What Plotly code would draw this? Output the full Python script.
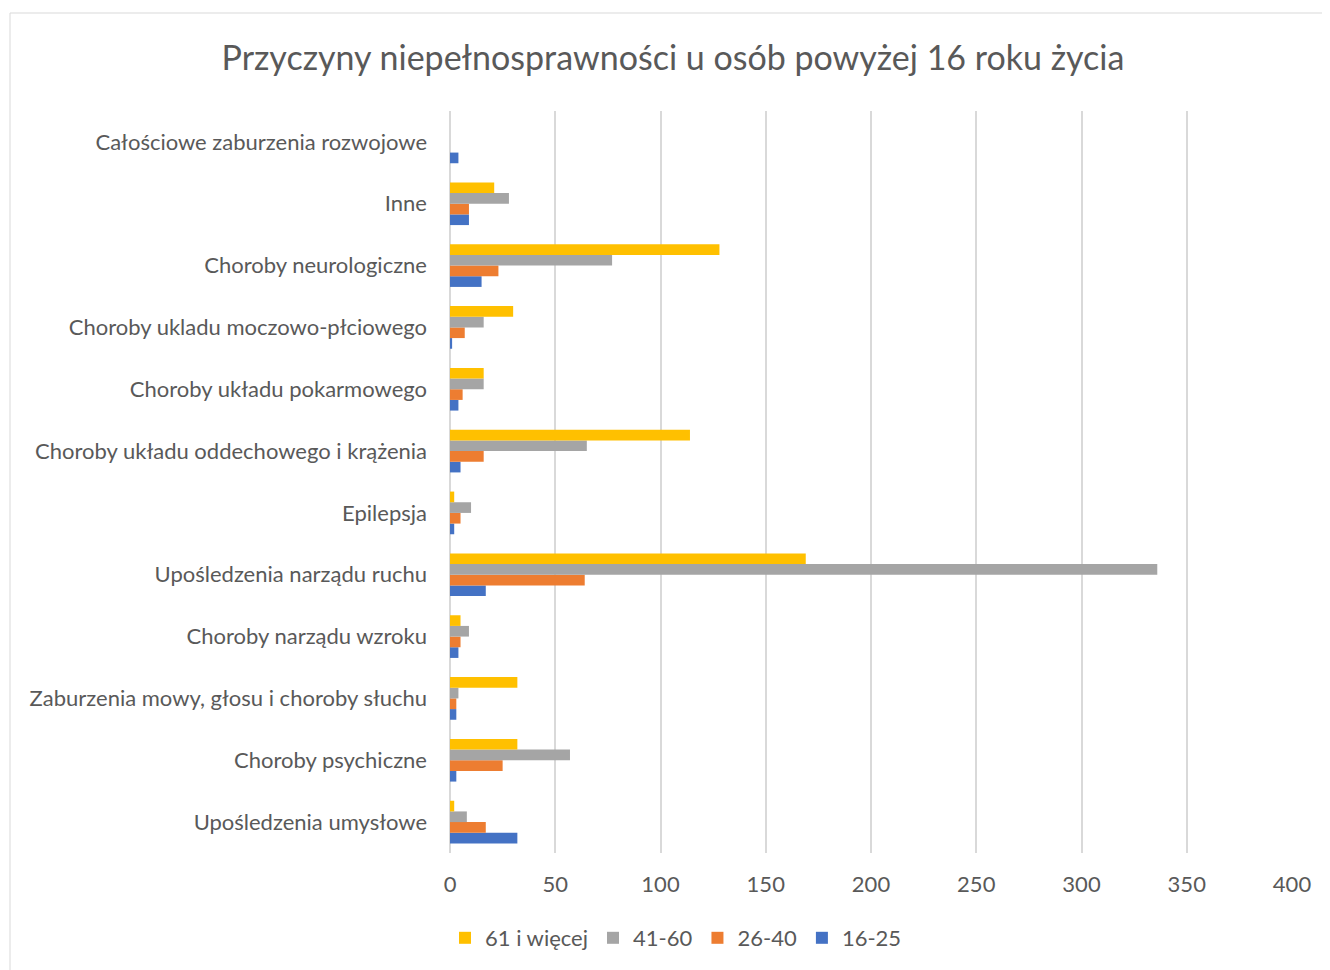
import plotly.graph_objects as go

categories = [
    "Upośledzenia umysłowe",
    "Choroby psychiczne",
    "Zaburzenia mowy, głosu i choroby słuchu",
    "Choroby narządu wzroku",
    "Upośledzenia narządu ruchu",
    "Epilepsja",
    "Choroby układu oddechowego i krążenia",
    "Choroby układu pokarmowego",
    "Choroby ukladu moczowo-płciowego",
    "Choroby neurologiczne",
    "Inne",
    "Całościowe zaburzenia rozwojowe",
]

v_16_25 = [32, 3, 3, 4, 17, 2, 5, 4, 1, 15, 9, 4]
v_26_40 = [17, 25, 3, 5, 64, 5, 16, 6, 7, 23, 9, 0]
v_41_60 = [8, 57, 4, 9, 336, 10, 65, 16, 16, 77, 28, 0]
v_61 = [2, 32, 32, 5, 169, 2, 114, 16, 30, 128, 21, 0]

series = [
    ("16-25", v_16_25, "#4472C4"),
    ("26-40", v_26_40, "#ED7D31"),
    ("41-60", v_41_60, "#A5A5A5"),
    ("61 i więcej", v_61, "#FFC000"),
]

FONT = "Lato"
TXT = "#595959"
W, H = 1322, 962
L, R, T, B = 442, 38, 103, 117
PW = W - L - R
PH = H - T - B

fig = go.Figure()
for name, vals, col in series:
    fig.add_trace(go.Bar(
        y=categories, x=vals, name=name, orientation="h",
        marker=dict(color=col, line=dict(width=0)),
    ))

fig.update_layout(
    width=W, height=H,
    margin=dict(l=L, r=R, t=T, b=B, autoexpand=False),
    paper_bgcolor="white", plot_bgcolor="white",
    barmode="group", bargap=0.31, bargroupgap=0,
    font=dict(family=FONT, color=TXT, size=22),
    title=dict(
        text="Przyczyny niepełnosprawności u osób powyżej 16 roku życia",
        x=0.503, xanchor="center", y=1 - 50 / H, yanchor="middle",
        font=dict(family=FONT, size=34, color=TXT),
    ),
    xaxis=dict(
        range=[0, 400], dtick=50, tick0=0,
        showgrid=True, gridcolor="#D9D9D9", gridwidth=2,
        zeroline=True, zerolinecolor="#D9D9D9", zerolinewidth=2,
        showline=False, ticks="", ticklabelstandoff=16,
        tickfont=dict(family=FONT, size=22, color=TXT),
        fixedrange=True,
    ),
    yaxis=dict(
        categoryorder="array", categoryarray=categories,
        showgrid=False, zeroline=False, showline=False, ticks="",
        ticklabelstandoff=22,
        tickfont=dict(family=FONT, size=22, color=TXT),
    ),
    legend=dict(
        orientation="h", traceorder="reversed",
        x=(668 - L) / PW, xanchor="center", y=-(909 - (T + PH)) / PH, yanchor="top",
        font=dict(family=FONT, size=22, color=TXT),
        itemwidth=30,
    ),
    shapes=[dict(
        type="rect", xref="paper", yref="paper",
        x0=(2 - L) / PW, x1=(W + 10 - L) / PW,
        y0=-(H + 10 - T - PH) / PH, y1=(T + PH - 5) / PH,
        line=dict(color="#D9D9D9", width=1), fillcolor="rgba(0,0,0,0)",
        layer="below",
    )],
)

fig.write_html("out.html")
